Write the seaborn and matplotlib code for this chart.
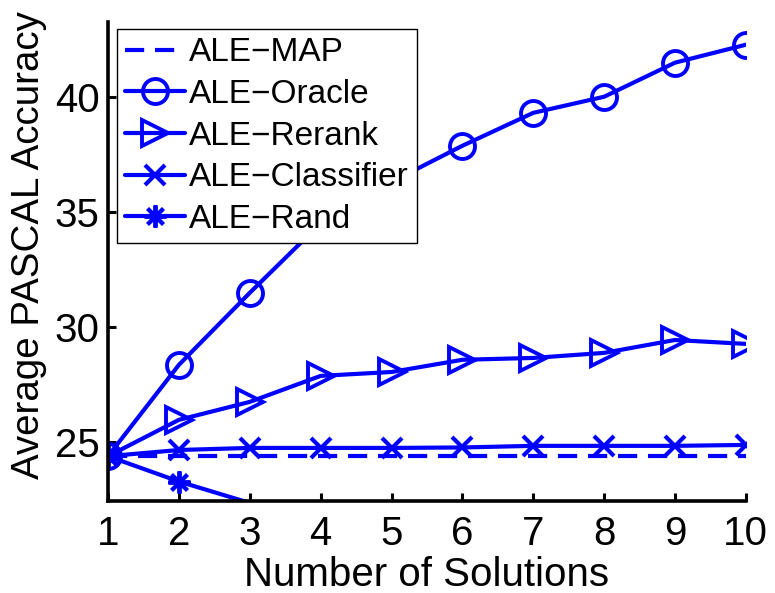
import numpy as np
import pandas as pd
import matplotlib
matplotlib.use("Agg")
import matplotlib.pyplot as plt
import seaborn as sns

solutions = [1, 2, 3, 4, 5, 6, 7, 8, 9, 10]
ale_map = [24.38, 24.38, 24.38, 24.38, 24.38, 24.38, 24.38, 24.38, 24.38, 24.38]
ale_oracle = [24.38, 28.35, 31.48, 34.5, 36.3, 37.87, 39.3, 40.0, 41.48, 42.26]
ale_rerank = [24.38, 25.96, 26.74, 27.87, 28.04, 28.57, 28.65, 28.87, 29.43, 29.26]
ale_classifier = [24.38, 24.65, 24.74, 24.74, 24.74, 24.76, 24.83, 24.83, 24.83, 24.87]
rand_solutions = [1, 2, 3]
ale_rand = [24.38, 23.28, 22.35]
yticks = [25, 30, 35, 40]

sns.set_style("ticks")
plt.rcParams['font.family'] = ['Liberation Sans', 'DejaVu Sans']
plt.rcParams['axes.unicode_minus'] = True
plt.rcParams['text.color'] = 'black'
plt.rcParams['axes.labelcolor'] = 'black'

fig = plt.figure(figsize=(7.75, 5.93), dpi=100)
ax = fig.add_axes([0.1394, 0.155, 0.823, 0.808])
ylim = (22.43, 43.25)

blue = (0, 0, 1)
lw = 3.0
series = [
    ("ALE\u2212MAP", solutions, ale_map, dict(marker=None, linestyle=(0, (4.6, 2.6)))),
    ("ALE\u2212Oracle", solutions, ale_oracle, dict(marker='o', markersize=18, mfc='none', mew=2.8)),
    ("ALE\u2212Rerank", solutions, ale_rerank, dict(marker='>', markersize=19, mfc='none', mew=2.8)),
    ("ALE\u2212Classifier", solutions, ale_classifier, dict(marker='x', markersize=14, mew=3.0)),
    ("ALE\u2212Rand", rand_solutions, ale_rand, dict(marker=(8, 2, 0), markersize=16, mew=2.8)),
]
for name, xs, ys, kw in series:
    df = pd.DataFrame({"x": xs, "y": ys})
    visible = [i for i, v in enumerate(ys) if v >= ylim[0]]
    sns.lineplot(data=df, x="x", y="y", ax=ax, color=blue, linewidth=lw,
                 label=name, markevery=visible, mec=blue, **kw)

ax.set_xlim(1, 10)
ax.set_ylim(*ylim)
ax.set_xticks(solutions)
ax.set_yticks(yticks)
ax.tick_params(direction='in', length=6, width=2.2, labelsize=29,
               colors='black', labelcolor='black')
ax.tick_params(axis='x', pad=10)
ax.tick_params(axis='y', pad=6)
for s in ['top', 'right']:
    ax.spines[s].set_visible(False)
for s in ['left', 'bottom']:
    ax.spines[s].set_linewidth(2.6)
    ax.spines[s].set_color('black')
ax.set_xlabel("Number of Solutions", fontsize=29, labelpad=2, color='black')
ax.set_ylabel("Average PASCAL Accuracy", fontsize=27.7, color='black')
ax.yaxis.set_label_coords(-0.096, 0.534)

leg = ax.legend(loc='upper left', bbox_to_anchor=(0.014, 0.985), borderaxespad=0,
                fontsize=24, frameon=True, fancybox=False, handlelength=1.8,
                handletextpad=0.1, labelspacing=0.32, borderpad=0.25)
leg.get_frame().set_edgecolor('black')
leg.get_frame().set_linewidth(1.0)
leg.get_frame().set_alpha(1)
for t in leg.get_texts():
    t.set_color('black')

fig.savefig("out.png", dpi=100)
